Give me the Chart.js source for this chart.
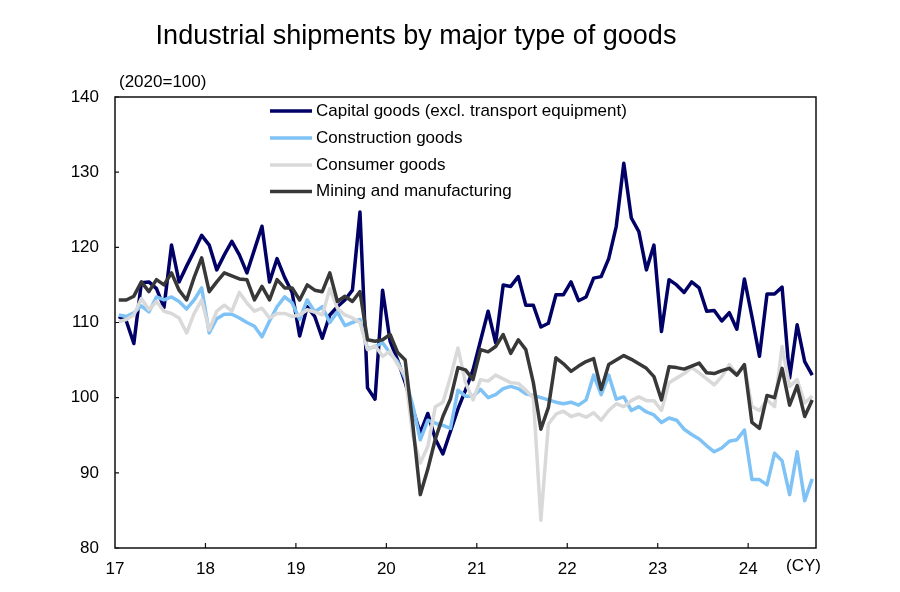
<!DOCTYPE html>
<html lang="en">
<head>
<meta charset="UTF-8">
<title>Industrial shipments by major type of goods</title>
<script src="https://cdn.jsdelivr.net/npm/chart.js@4.4.1/dist/chart.umd.min.js"></script>
<style>
    html, body { margin: 0; padding: 0; background: #fff; }
    #wrap { width: 900px; height: 592px; }
</style>
</head>
<body>
<div id="wrap"><canvas id="shipChart" width="900" height="592"></canvas></div>
<script>
    // monthly, Jan 2017 .. Sep 2024 (93 months), 2020=100
    const yearLabels = ['17', '18', '19', '20', '21', '22', '23', '24'];
    const yTicks = [80, 90, 100, 110, 120, 130, 140];

    const capital = [
        110.8, 110.2, 107.2, 115.3, 115.4, 114.5, 112.0, 120.3, 115.4, 117.5, 119.5, 121.6,
        120.3, 117.0, 119.0, 120.8, 119.0, 116.6, 119.7, 122.8, 115.4, 118.5, 116.0, 114.0,
        108.2, 112.1, 110.8, 107.9, 111.0, 112.1, 113.0, 114.3, 124.7, 101.3, 99.8, 114.3,
        107.5, 105.0, 102.0, 98.5, 95.3, 97.9, 94.5, 92.5, 95.5, 98.5, 101.0, 103.7,
        107.6, 111.5, 107.3, 115.0, 114.8, 116.1, 112.3, 112.3, 109.4, 109.9, 113.7, 113.7,
        115.4, 112.9, 113.4, 115.9, 116.1, 118.5, 122.8, 131.2, 123.9, 122.1, 117.0, 120.3,
        108.8, 115.7, 115.0, 114.0, 115.4, 114.6, 111.5, 111.6, 110.2, 111.3, 109.1, 115.8,
        110.8, 105.5, 113.8, 113.8, 114.7, 102.6, 109.7, 104.8, 103.0
    ];
    const construction = [
        111.0, 110.8, 111.3, 112.2, 111.4, 113.4, 113.0, 113.4, 112.8, 111.8, 113.0, 114.6,
        108.6, 110.5, 111.1, 111.1, 110.6, 110.0, 109.5, 108.1, 110.2, 112.1, 113.4, 112.6,
        110.4, 113.0, 111.4, 112.1, 110.0, 111.4, 109.6, 110.0, 110.4, 106.5, 106.8, 107.3,
        105.9, 104.8, 102.5, 99.0, 94.4, 97.0, 96.6, 96.3, 95.9, 101.0, 100.2, 100.2,
        101.1, 100.0, 100.4, 101.2, 101.5, 101.2, 100.5, 100.3, 100.0, 99.7, 99.4, 99.2,
        99.4, 99.0, 99.7, 103.0, 100.4, 103.0, 99.8, 100.1, 98.3, 98.8, 98.1, 97.7,
        96.7, 97.3, 97.0, 95.8, 95.1, 94.5, 93.6, 92.8, 93.3, 94.2, 94.4, 95.7,
        89.1, 89.1, 88.4, 92.6, 91.6, 87.1, 92.8, 86.3, 89.2
    ];
    const consumer = [
        110.1, 110.4, 111.0, 113.2, 111.7, 112.8, 111.5, 111.2, 110.6, 108.6, 111.2, 113.0,
        109.0, 111.5, 112.3, 111.5, 114.0, 112.6, 111.5, 111.9, 110.6, 111.2, 111.2, 110.8,
        111.0, 111.7, 111.4, 111.0, 114.5, 111.9, 111.0, 110.6, 110.0, 106.4, 106.9, 105.5,
        106.2, 104.4, 103.0, 95.0, 91.3, 93.5, 98.8, 99.4, 102.7, 106.6, 102.0, 99.7,
        102.4, 102.2, 103.0, 102.5, 102.0, 101.9, 101.0, 100.0, 83.7, 96.5, 97.8, 98.2,
        97.5, 97.8, 97.4, 98.0, 97.0, 98.3, 99.2, 98.8, 99.6, 100.1, 99.6, 99.6,
        98.3, 102.0, 102.6, 103.2, 104.0, 103.3, 102.5, 101.7, 102.8, 104.4, 103.1, 104.2,
        98.8, 98.3, 99.7, 98.8, 106.8, 101.5, 102.4, 99.3, 100.2
    ];
    const mining = [
        113.0, 113.0, 113.5, 115.4, 114.1, 115.7, 115.0, 116.6, 114.3, 113.0, 116.0, 118.6,
        114.1, 115.4, 116.6, 116.2, 115.8, 115.7, 113.0, 114.8, 113.0, 115.7, 114.6, 114.6,
        113.0, 115.0, 114.3, 114.1, 116.6, 112.8, 113.5, 112.8, 114.1, 107.7, 107.5, 107.7,
        108.4, 106.0, 105.0, 96.5, 87.1, 90.5, 94.5, 97.5, 99.8, 104.0, 103.7, 102.4,
        106.4, 106.1, 106.8, 108.4, 105.9, 107.7, 106.4, 102.0, 95.8, 98.7, 105.3, 104.5,
        103.5, 104.2, 104.8, 105.2, 101.1, 104.4, 105.0, 105.6, 105.1, 104.5, 103.9, 102.8,
        99.7, 104.1, 104.0, 103.8, 104.2, 104.6, 103.3, 103.2, 103.6, 103.9, 103.0, 104.4,
        96.7, 95.9, 100.3, 100.0, 103.9, 99.0, 101.6, 97.5, 99.7
    ];

    const seriesNames = [
        'Capital goods (excl. transport equipment)',
        'Construction goods',
        'Consumer goods',
        'Mining and manufacturing'
    ];
    const seriesColors = ['#000066', '#7fc2f5', '#d9d9d9', '#383838'];

    const FONT = '"Liberation Sans", Arial, sans-serif';

    // month index -> x position in the middle of the month
    function toPoints(arr) {
        return arr.map((v, i) => ({ x: i + 0.5, y: v }));
    }

    // box, inward ticks, title, unit, legend
    const decorations = {
        id: 'decorations',
        afterDraw(chart) {
            const ctx = chart.ctx;
            const a = chart.chartArea;
            const xs = chart.scales.x;
            const ys = chart.scales.y;
            ctx.save();

            ctx.strokeStyle = '#111';
            ctx.lineWidth = 1.5;
            ctx.strokeRect(a.left, a.top, a.right - a.left, a.bottom - a.top);

            ctx.lineWidth = 1.2;
            ctx.beginPath();
            yTicks.forEach(v => {
                const py = ys.getPixelForValue(v);
                ctx.moveTo(a.left, py);
                ctx.lineTo(a.left + 4, py);
            });
            yearLabels.forEach((lab, k) => {
                if (k === 0) return;
                const px = xs.getPixelForValue(k * 12);
                ctx.moveTo(px, a.bottom);
                ctx.lineTo(px, a.bottom - 5);
            });
            ctx.stroke();

            ctx.fillStyle = '#000';
            ctx.textBaseline = 'middle';
            ctx.textAlign = 'center';
            ctx.font = '27px ' + FONT;
            ctx.fillText('Industrial shipments by major type of goods', 416, 37);

            ctx.textAlign = 'left';
            ctx.font = '17px ' + FONT;
            ctx.fillText('(2020=100)', 119, 82);
            ctx.fillText('(CY)', 786, 566);

            // legend
            const rows = [111, 138, 165, 191.5];
            seriesNames.forEach((name, k) => {
                ctx.strokeStyle = seriesColors[k];
                ctx.lineWidth = 3.5;
                ctx.beginPath();
                ctx.moveTo(270, rows[k]);
                ctx.lineTo(312, rows[k]);
                ctx.stroke();
                ctx.fillStyle = '#000';
                ctx.fillText(name, 316, rows[k]);
            });
            ctx.restore();
        }
    };

    const ctx = document.getElementById('shipChart').getContext('2d');
    const allSeries = [capital, construction, consumer, mining];

    new Chart(ctx, {
        type: 'line',
        data: {
            datasets: allSeries.map((arr, k) => ({
                label: seriesNames[k],
                data: toPoints(arr),
                borderColor: seriesColors[k],
                borderWidth: 3.5,
                pointRadius: 0,
                tension: 0,
                borderJoinStyle: 'round',
                order: 4 - k
            }))
        },
        options: {
            responsive: false,
            animation: false,
            devicePixelRatio: 1,
            layout: { padding: { top: 97, right: 84, left: 0, bottom: 0 } },
            plugins: {
                legend: { display: false },
                title: { display: false },
                tooltip: { enabled: false }
            },
            scales: {
                x: {
                    type: 'linear',
                    min: 0,
                    max: 93,
                    grid: { display: false, drawTicks: false },
                    border: { display: false },
                    ticks: {
                        stepSize: 12,
                        includeBounds: false,
                        autoSkip: false,
                        maxRotation: 0,
                        padding: 11,
                        color: '#000',
                        font: { family: FONT, size: 17 },
                        callback: v => yearLabels[v / 12]
                    },
                    afterFit: s => { s.height = 44; }
                },
                y: {
                    min: 80,
                    max: 140,
                    grid: { display: false, drawTicks: false },
                    border: { display: false },
                    ticks: {
                        stepSize: 10,
                        padding: 16,
                        color: '#000',
                        font: { family: FONT, size: 17 }
                    },
                    afterFit: s => { s.width = 115; }
                }
            }
        },
        plugins: [decorations]
    });
</script>
</body>
</html>
